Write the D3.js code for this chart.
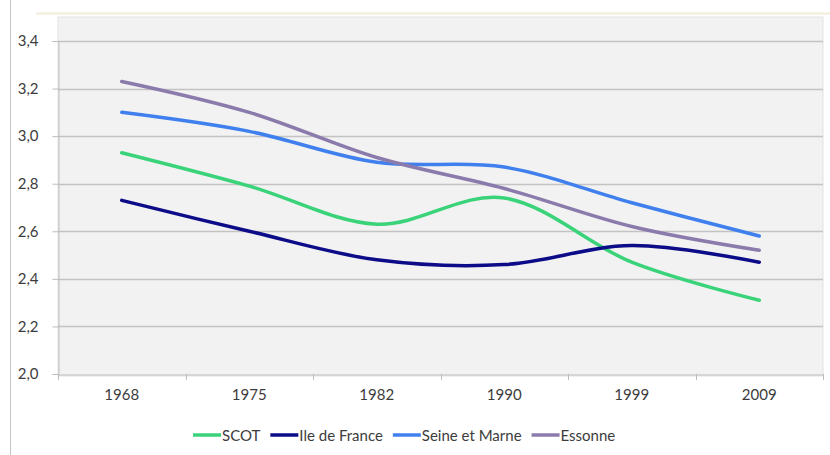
<!DOCTYPE html>
<html lang="fr">
<head>
  <meta charset="utf-8">
  <title>Taille des ménages</title>
  <style>
body {
  margin: 0;
  background: #fff;
  font-family: Lato, "Open Sans", sans-serif;
}
  </style>
  <script src="https://d3js.org/d3.v7.min.js"></script>
</head>
<body>
<div id="chart"></div>

<script>

// data
var years = ['1968', '1975', '1982', '1990', '1999', '2009'];
var scot = [2.93, 2.79, 2.63, 2.74, 2.47, 2.31];
var ileDeFrance = [2.73, 2.60, 2.48, 2.46, 2.54, 2.47];
var seineEtMarne = [3.10, 3.02, 2.89, 2.87, 2.72, 2.58];
var essonne = [3.23, 3.10, 2.91, 2.78, 2.62, 2.52];
var yTicks = [2.0, 2.2, 2.4, 2.6, 2.8, 3.0, 3.2, 3.4];

var series = [
  {name: 'SCOT', values: scot, color: '#3ad37a'},
  {name: 'Ile de France', values: ileDeFrance, color: '#0c0c88'},
  {name: 'Seine et Marne', values: seineEtMarne, color: '#3f80ee'},
  {name: 'Essonne', values: essonne, color: '#8b7bac'}
];

var w = 830, h = 455;
var plot = {left: 58, right: 823, top: 17, bottom: 376};

var svg = d3.select('#chart').append('svg')
  .attr('width', w)
  .attr('height', h);

// frame bits
svg.append('line')
  .attr('x1', 10.5).attr('x2', 10.5).attr('y1', 0).attr('y2', h)
  .attr('stroke', '#c4c4c4');
svg.append('line')
  .attr('x1', 36).attr('x2', w).attr('y1', 13.5).attr('y2', 13.5)
  .attr('stroke', '#f3ecd8').attr('stroke-width', 2);

// plot area
svg.append('rect')
  .attr('x', plot.left).attr('y', plot.top)
  .attr('width', plot.right - plot.left).attr('height', plot.bottom - plot.top)
  .attr('fill', '#f2f2f2')
  .attr('stroke', '#e2e2e2');

var x = d3.scaleBand()
  .domain(years)
  .range([plot.left, plot.right]);

// 2.0 -> 374, 3.4 -> 41
var y = d3.scaleLinear()
  .domain([2.0, 3.4])
  .range([374, 41]);

// gridlines
svg.append('g')
  .selectAll('line')
  .data(yTicks.slice(1))
  .enter().append('line')
  .attr('x1', plot.left).attr('x2', plot.right)
  .attr('y1', function(d) { return Math.round(y(d)) + 0.5; })
  .attr('y2', function(d) { return Math.round(y(d)) + 0.5; })
  .attr('stroke', '#c3c3c3')
  .attr('stroke-width', 1.5);

// y axis
var yAxis = svg.append('g')
  .attr('transform', 'translate(' + (plot.left + 0.5) + ',0)')
  .call(d3.axisLeft(y)
    .tickValues(yTicks)
    .tickSize(6)
    .tickPadding(14)
    .tickFormat(function(d) { return d3.format('.1f')(d).replace('.', ','); }));
yAxis.select('.domain').attr('stroke', '#bdbdbd');
yAxis.selectAll('.tick line').attr('stroke', '#bdbdbd');
yAxis.selectAll('text')
  .attr('fill', '#3c3c3c')
  .style('font-size', '15px')
  .style('font-family', 'Lato, sans-serif');

// x axis
var xAxis = svg.append('g')
  .attr('transform', 'translate(0,' + 374.5 + ')')
  .call(d3.axisBottom(x).tickSize(0).tickPadding(15));
xAxis.select('.domain').attr('stroke', '#bdbdbd');
xAxis.selectAll('text')
  .attr('fill', '#3c3c3c')
  .style('font-size', '15px')
  .style('font-family', 'Lato, sans-serif');

// ticks between categories
svg.append('g')
  .selectAll('line')
  .data(years.concat(['end']))
  .enter().append('line')
  .attr('x1', function(d, i) { return Math.round(plot.left + i * x.bandwidth()) + 0.5; })
  .attr('x2', function(d, i) { return Math.round(plot.left + i * x.bandwidth()) + 0.5; })
  .attr('y1', 374).attr('y2', 380)
  .attr('stroke', '#bdbdbd');

// smoothed lines
var line = d3.line()
  .x(function(d, i) { return x(years[i]) + x.bandwidth() / 2; })
  .y(function(d) { return y(d); })
  .curve(d3.curveCardinal.tension(0));

svg.append('g')
  .selectAll('path')
  .data(series)
  .enter().append('path')
  .attr('d', function(d) { return line(d.values); })
  .attr('fill', 'none')
  .attr('stroke', function(d) { return d.color; })
  .attr('stroke-width', 3.5)
  .attr('stroke-linecap', 'round');

// legend
var legend = svg.append('g').attr('class', 'legend');
var lx = 0;
series.forEach(function(s) {
  var g = legend.append('g').attr('transform', 'translate(' + lx + ',0)');
  g.append('line')
    .attr('x1', 0).attr('x2', 28)
    .attr('y1', 0).attr('y2', 0)
    .attr('stroke', s.color)
    .attr('stroke-width', 3.5);
  var t = g.append('text')
    .attr('x', 29).attr('y', 5.5)
    .attr('fill', '#3c3c3c')
    .style('font-size', '15px')
    .style('font-family', 'Lato, sans-serif')
    .text(s.name);
  lx += 29 + t.node().getComputedTextLength() + 10;
});
legend.attr('transform', 'translate(' + Math.round(404 - (lx - 10) / 2) + ',435)');

</script>
</body>
</html>
